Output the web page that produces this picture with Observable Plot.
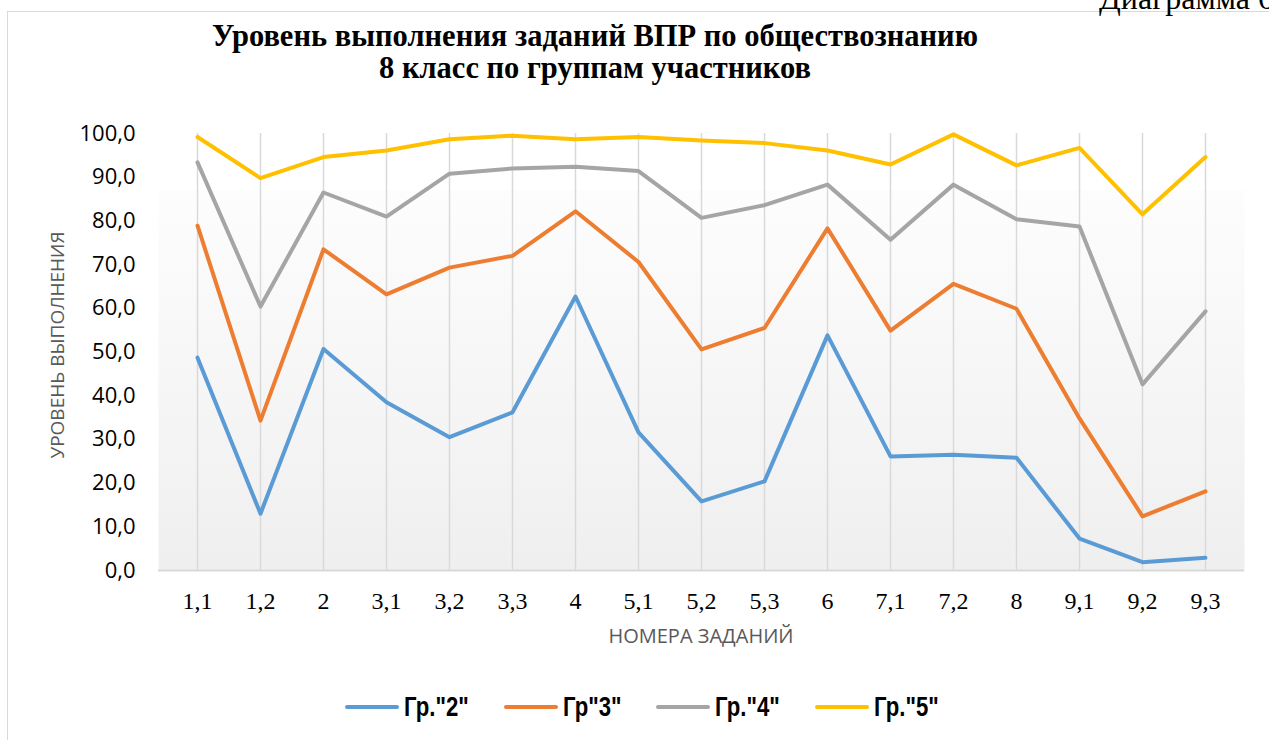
<!DOCTYPE html>
<html>
<head>
<meta charset="utf-8">
<script src="https://cdn.jsdelivr.net/npm/d3@7"></script>
<script src="https://cdn.jsdelivr.net/npm/@observablehq/plot@0.6"></script>
<style>
  html, body { margin: 0; padding: 0; background: #fff; }
  #page { position: relative; width: 1269px; height: 740px; overflow: hidden; }
  #frame { position: absolute; left: 7px; top: 11px; width: 1300px; height: 800px;
           border-left: 1.5px solid #d9d9d9; border-top: 1.5px solid #d9d9d9; box-sizing: border-box; }
  #diag { position: absolute; left: 1099px; top: -19px; font: 32px/35.4px "Liberation Serif", serif; color: #000; white-space: nowrap; }
  #title { position: absolute; left: 0; top: 20px; width: 1190px; text-align: center;
           font: bold 30.5px/32px "Liberation Serif", serif; color: #000; }
  #chart { position: absolute; left: 0; top: 100px; }
  #ytitle { position: absolute; left: 57px; top: 345px; transform: translate(-50%,-50%) rotate(-90deg);
            font: 19px "Open Sans", sans-serif; color: #595959; white-space: nowrap; }
  #xtitle { position: absolute; left: 701px; top: 635px; transform: translate(-50%,-50%);
            font: 20px "Open Sans", sans-serif; color: #595959; white-space: nowrap; }
  #legend { position: absolute; left: 0; top: 707px; width: 1269px; height: 0; }
  .item { position: absolute; top: 0; height: 0; }
  .sw { position: absolute; left: 0; top: -2.25px; width: 54px; height: 4.5px; border-radius: 3px; }
  .lab { position: absolute; left: 59px; top: 0; transform-origin: 0 50%; transform: translateY(-50%) scaleX(0.82);
         font: bold 27px/30px "Liberation Sans", Arial, sans-serif; color: #000; white-space: nowrap; }
</style>
</head>
<body>
<div id="page">
  <div id="frame"></div>
  <div id="diag">Диаграмма 6</div>
  <div id="title">Уровень выполнения заданий ВПР по обществознанию<br>8 класс по группам участников</div>
  <div id="chart"></div>
  <div id="ytitle">УРОВЕНЬ ВЫПОЛНЕНИЯ</div>
  <div id="xtitle">НОМЕРА ЗАДАНИЙ</div>
  <div id="legend"></div>
</div>
<script>
// ---- data ----
const categories = ["1,1","1,2","2","3,1","3,2","3,3","4","5,1","5,2","5,3","6","7,1","7,2","8","9,1","9,2","9,3"];
const seriesNames = ['Гр."2"', 'Гр"3"', 'Гр."4"', 'Гр."5"'];
const seriesColors = ["#5B9BD5", "#ED7D31", "#A5A5A5", "#FFC000"];
const gr2 = [48.7, 13.0, 50.7, 38.5, 30.5, 36.2, 62.7, 31.6, 15.8, 20.4, 53.8, 26.1, 26.5, 25.8, 7.3, 1.9, 2.9];
const gr3 = [78.9, 34.3, 73.5, 63.2, 69.3, 72.0, 82.2, 70.6, 50.6, 55.5, 78.3, 54.9, 65.6, 59.9, 34.8, 12.4, 18.1];
const gr4 = [93.4, 60.4, 86.5, 81.0, 90.8, 92.0, 92.4, 91.4, 80.7, 83.6, 88.3, 75.7, 88.3, 80.4, 78.7, 42.6, 59.3];
const gr5 = [99.2, 89.8, 94.6, 96.1, 98.7, 99.5, 98.7, 99.2, 98.4, 97.8, 96.1, 92.9, 99.8, 92.7, 96.7, 81.5, 94.6];
const yTicks = [0, 10, 20, 30, 40, 50, 60, 70, 80, 90, 100];

const seriesValues = [gr2, gr3, gr4, gr5];
const rows = [];
seriesValues.forEach((vals, si) => vals.forEach((v, i) => rows.push({series: seriesNames[si], cat: categories[i], v})));

const chart = Plot.plot({
  width: 1269,
  height: 560,
  marginTop: 33,
  marginBottom: 90,
  marginLeft: 158,
  marginRight: 25,
  style: {background: "transparent", overflow: "visible"},
  x: {type: "point", domain: categories, padding: 0.5},
  y: {domain: [0, 100]},
  color: {domain: seriesNames, range: seriesColors},
  marks: [
    Plot.frame({fill: "url(#plotBg)", stroke: null}),
    Plot.ruleX(categories, {x: d => d, y1: 0, y2: 100, stroke: "#d9d9d9", strokeWidth: 1.5}),
    Plot.ruleY([0], {stroke: "#d9d9d9", strokeWidth: 2}),
    Plot.axisY({ticks: yTicks, tickSize: 0, tickPadding: 23, label: null,
      tickFormat: d => d.toFixed(1).replace(".", ","),
      fontFamily: "Open Sans", fontSize: 22, fill: "#000"}),
    Plot.axisX({tickSize: 0, tickPadding: 21, label: null,
      fontFamily: "Liberation Serif", fontSize: 24, fill: "#000"}),
    Plot.line(rows, {x: "cat", y: "v", z: "series", stroke: "series", strokeWidth: 4,
      strokeLinejoin: "round", strokeLinecap: "round"})
  ]
});
d3.select(chart).insert("defs", ":first-child").html(
  '<linearGradient id="plotBg" x1="0" y1="0" x2="0" y2="1">' +
  '<stop offset="0" stop-color="#ffffff"/>' +
  '<stop offset="0.13" stop-color="#ffffff"/>' +
  '<stop offset="0.13" stop-color="#fdfdfd"/>' +
  '<stop offset="1" stop-color="#efefef"/>' +
  '</linearGradient>');
document.getElementById("chart").appendChild(chart);

// legend (HTML below the chart)
const legendLefts = [345, 504, 656, 815];
const legend = d3.select("#legend");
seriesNames.forEach((name, i) => {
  const it = legend.append("div").attr("class", "item").style("left", legendLefts[i] + "px");
  it.append("div").attr("class", "sw").style("background", seriesColors[i]);
  it.append("span").attr("class", "lab").text(name);
});
</script>
</body>
</html>
